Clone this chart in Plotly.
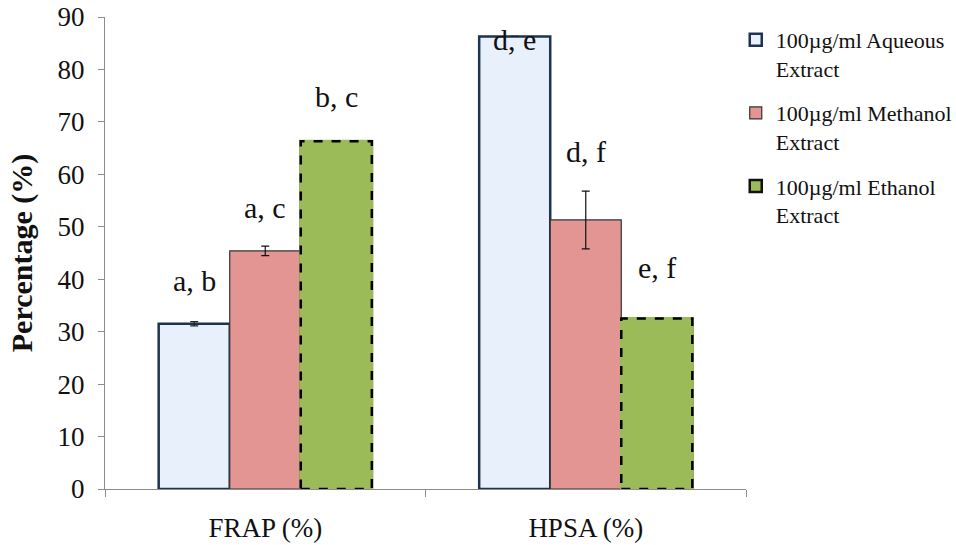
import plotly.graph_objects as go

categories = ["FRAP (%)", "HPSA (%)"]
series_names = ["100µg/ml Aqueous<br>Extract", "100µg/ml Methanol<br>Extract", "100µg/ml Ethanol<br>Extract"]
aqueous = [31.5, 86.3]
methanol = [45.4, 51.3]
ethanol = [66.3, 32.5]
aqueous_err = [0.4, 0.0]
methanol_err = [0.9, 5.5]
ethanol_err = [0.0, 0.0]
labels_aqueous = ["a, b", "d, e"]
labels_methanol = ["a, c", "d, f"]
labels_ethanol = ["b, c", "e, f"]
label_y_aqueous = [39.8, 85.7]
label_y_methanol = [53.6, 64.3]
label_y_ethanol = [74.8, 42.2]

FONT = "Liberation Serif, Times New Roman, serif"
BARGAP = 0.335
NBARS = 3
bw = (1 - BARGAP) / NBARS

fig = go.Figure()
fig.add_trace(go.Bar(
    name=series_names[0], x=categories, y=aqueous,
    marker=dict(color="#E8F1FB", line=dict(color="#1F3250", width=2.5)),
    error_y=dict(type="data", array=aqueous_err, color="#222", thickness=1.2, width=4),
    legendgroup="a",
))
fig.add_trace(go.Bar(
    name=series_names[1], x=categories, y=methanol,
    marker=dict(color="#E39594", line=dict(color="#333333", width=1.2)),
    error_y=dict(type="data", array=methanol_err, color="#111", thickness=1.2, width=4),
    legendgroup="b",
))
fig.add_trace(go.Bar(
    name=series_names[2], x=categories, y=ethanol,
    marker=dict(color="#9BBB59", line=dict(color="#111111", width=2.5)),
    legendgroup="c",
))

# dashed outline for ethanol bars
for i, v in enumerate(ethanol):
    cx = i + bw
    fig.add_shape(type="rect", xref="x", yref="y",
                  x0=cx - bw / 2, x1=cx + bw / 2, y0=0, y1=v,
                  line=dict(color="#9BBB59", width=3), fillcolor="#9BBB59", layer="above")
    fig.add_shape(type="rect", xref="x", yref="y",
                  x0=cx - bw / 2, x1=cx + bw / 2, y0=0, y1=v,
                  line=dict(color="#000000", width=2.5, dash="dash"), layer="above")

for offs, labs, ys in [(-bw, labels_aqueous, label_y_aqueous),
                       (0, labels_methanol, label_y_methanol),
                       (bw, labels_ethanol, label_y_ethanol)]:
    for i, (t, yv) in enumerate(zip(labs, ys)):
        fig.add_annotation(x=i + offs, y=yv, xref="x", yref="y", text=t,
                           showarrow=False, font=dict(family=FONT, size=30, color="#111"))

fig.update_layout(
    width=956, height=545,
    margin=dict(l=105, r=210, t=17, b=56, autoexpand=False),
    paper_bgcolor="white", plot_bgcolor="white",
    barmode="group", bargap=BARGAP, bargroupgap=0,
    font=dict(family=FONT, color="#111"),
    showlegend=True,
    legend=dict(x=0.984, y=0.996, xanchor="left", yanchor="top", valign="top",
                font=dict(family=FONT, size=22, color="#111"),
                tracegroupgap=13, traceorder="grouped", bgcolor="rgba(0,0,0,0)"),
)
fig.update_xaxes(
    type="category", showline=True, linecolor="#8c8c8c", linewidth=1.2,
    ticks="outside", tickson="boundaries", ticklen=7, tickcolor="#8c8c8c",
    ticklabelstandoff=14, automargin=False,
    tickfont=dict(family=FONT, size=27, color="#111"), showgrid=False, zeroline=False,
    range=[-0.5, 1.5],
)
fig.update_yaxes(
    range=[0, 90], dtick=10, showline=True, linecolor="#8c8c8c", linewidth=1.2,
    ticks="outside", ticklen=6, tickcolor="#8c8c8c", showgrid=False, zeroline=False,
    ticklabelstandoff=8, automargin=False,
    tickfont=dict(family=FONT, size=27, color="#111"),
    title=dict(text="<b>Percentage (%)</b>", font=dict(family=FONT, size=30, color="#111"), standoff=16),
)

fig.write_html("out.html", config={"displayModeBar": False},
               post_script="document.body.style.margin='0';document.body.style.padding='0';")
